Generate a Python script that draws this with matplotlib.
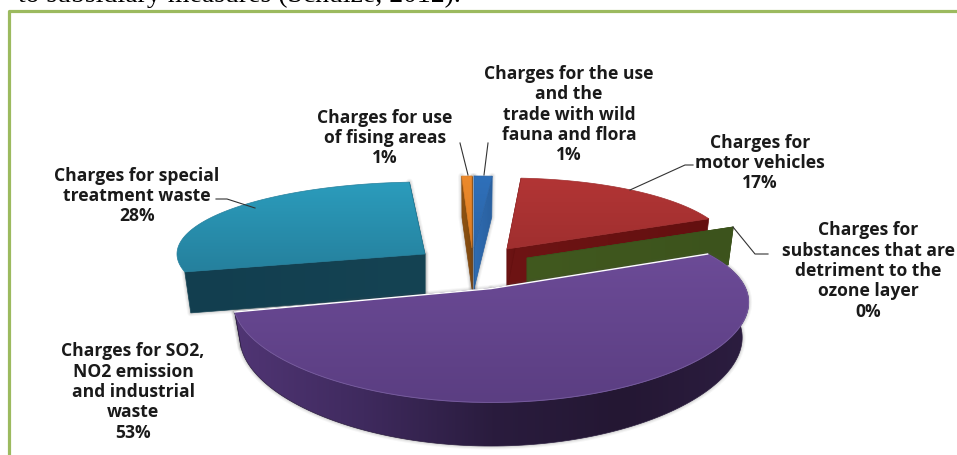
import numpy as np
import matplotlib
matplotlib.use("Agg")
import matplotlib.pyplot as plt
from matplotlib.colors import LinearSegmentedColormap
from matplotlib.patches import Polygon

# Environmental charges, share of revenue by category (clockwise from the top)
categories = [
    "Charges for the use\nand the\ntrade with wild\nfauna and flora",
    "Charges for\nmotor vehicles",
    "Charges for\nsubstances that are\ndetriment to the\nozone layer",
    "Charges for SO2,\nNO2 emission\nand industrial\nwaste",
    "Charges for special\ntreatment waste",
    "Charges for use\nof fising areas",
]
shares = [1, 17, 0, 53, 28, 1]
W, H = 957, 455
FONT = "Open Sans"

fig = plt.figure(figsize=(W / 100, H / 100), dpi=100, facecolor="white")

# The pie itself supplies the slice angles; its flat form stays hidden
pie_ax = fig.add_axes([0, 0, 0.1, 0.1])
slices, _ = pie_ax.pie(shares, startangle=90, counterclock=False)
angles = [(s.theta1, s.theta2) for s in slices]
pie_ax.set_visible(False)

ax = fig.add_axes([0, 0, 1, 1])
ax.set_xlim(0, W)
ax.set_ylim(H, 0)
ax.axis("off")


def project(ang, sty, r=1.0, drop=0.0):
    """Map pie angles onto the tilted disc of one exploded slice."""
    ang = np.radians(np.atleast_1d(ang))
    u, v = r * np.cos(ang), r * np.sin(ang)
    sx = 1 / (1 + sty["kx"] * v)
    sy = 1 / (1 + sty["ky"] * v)
    taper = 1 - 0.025 * (drop > 0)
    x = sty["x"] + sty["a"] * u * sx * taper
    y = sty["y"] - sty["b"] * v * sy + drop * sy
    return np.column_stack([x, y])


def gradient_fill(pts, stops, zorder, horizontal=False):
    """Fill a polygon with a linear colour ramp across its bounding box."""
    x0, y0 = pts.min(axis=0)
    x1, y1 = pts.max(axis=0)
    cmap = LinearSegmentedColormap.from_list("ramp", stops)
    ramp = np.linspace(0, 1, 256)
    ramp = ramp[None, :] if horizontal else ramp[:, None]
    im = ax.imshow(ramp, cmap=cmap, extent=(x0, x1, y1, y0), aspect="auto",
                   zorder=zorder, interpolation="bilinear")
    clip = Polygon(pts, closed=True, transform=ax.transData)
    im.set_clip_path(clip)
    ax.add_patch(Polygon(pts, closed=True, fill=False, ec=stops[len(stops) // 2],
                         lw=0.5, zorder=zorder))


def soft_halo(pts, zorder):
    """Soft grey fringe around a wall."""
    for lw, alpha in [(5, 0.05), (3.5, 0.07), (2, 0.1)]:
        ax.add_patch(Polygon(pts, closed=True, fill=False, ec="#555555", lw=lw,
                             alpha=alpha, zorder=zorder, joinstyle="round"))


# Geometry and shading of each slice: apex, radii, perspective, wall depth
styles = [
    dict(x=474, y=248, a=290, b=72, kx=0, ky=0, d=41, outer=False, halo=True,
         top=["#2f70ba", "#2b64a6"], wall=["#2f6cb2", "#29609f"]),
    dict(x=507, y=249, a=223, b=71, kx=0, ky=0, d=41, outer=False, halo=False,
         top=["#b23535", "#a02f2f"], wall=["#6e1414", "#641010"]),
    dict(x=527, y=258, a=228, b=73, kx=0, ky=0, d=38, outer=False, halo=False,
         top=["#3f5a1e", "#3f5a1e"], wall=["#41591f", "#3c531c"]),
    dict(x=491, y=288.6, a=254.7, b=88.8, kx=0.15, ky=0.22, d=34, outer=True, halo=True,
         top=["#6c4b97", "#5b3e82"],
         wall=["#503574", "#3f2a5e", "#2a1c3e", "#241733", "#2c1d40"]),
    dict(x=425, y=254, a=248, b=72, kx=0, ky=0, d=41, outer=False, halo=True,
         top=["#2b9cbc", "#25809d"], wall=["#123e4f", "#154353"]),
    dict(x=472, y=248, a=165, b=72, kx=0, ky=0, d=41, outer=False, halo=True,
         top=["#ec8a2c", "#dc7c22"], wall=["#8f5312", "#7c4710"]),
]
draw_order = [5, 0, 4, 1, 2, 3]

for z, i in enumerate(draw_order):
    sty = styles[i]
    t1, t2 = angles[i]
    base = 10 + z * 3
    arc_a = np.linspace(t1, t2, 160)
    rim = project(arc_a, sty)
    apex = np.array([[sty["x"], sty["y"]]])
    lo_rim = project(arc_a, sty, drop=sty["d"])
    lo_apex = project(0.0, sty, r=0.0, drop=sty["d"])

    # Two cut faces and, where it faces the viewer, the curved outer wall
    walls = [
        np.vstack([apex, rim[:1], lo_rim[:1], lo_apex]),
        np.vstack([apex, rim[-1:], lo_rim[-1:], lo_apex]),
    ]
    if sty["outer"]:
        walls.append(np.vstack([rim, lo_rim[::-1]]))
    if sty["halo"]:
        for w in walls:
            soft_halo(w, base)
    for w in walls:
        gradient_fill(w, sty["wall"], base + 1, horizontal=True)

    # Top face (the empty slice has none, only its cut face)
    if t2 > t1:
        gradient_fill(np.vstack([apex, rim]), sty["top"], base + 2)

    # Purple slice: pale rim and thin white cut edge
    if i == 3:
        ax.plot(rim[:, 0], rim[:, 1], color="#7d62a5", lw=0.7, alpha=0.8, zorder=base + 2)
        edge = np.vstack([rim[:1], apex, rim[-1:]])
        ax.plot(edge[:, 0], edge[:, 1], color="white", lw=1.0, zorder=base + 2)

# Leader lines
leaders = [
    ([484, 488], [175, 143]),
    ([693, 685, 630], [165, 165, 190]),
    ([733, 755, 768], [227, 254, 254]),
    ([255, 227, 216], [208, 199, 199]),
    ([468, 460], [175, 143]),
]
for xs, ys in leaders:
    ax.plot(xs, ys, color="#333333", lw=0.8, zorder=40)

# Data labels: name above, share below
label_pos = [(569, 114.5), (760, 163), (868, 271), (133, 392), (137, 196), (385, 138)]
for name, share, (lx, ly) in zip(categories, shares, label_pos):
    ax.text(lx, ly, f"{name}\n{share}%", ha="center", va="center", family=FONT,
            fontweight="bold", fontsize=12.6, color="#1a1a1a", linespacing=1.17,
            zorder=41)

# Surrounding frame
ax.plot([9, 9, W], [H, 10.5, 10.5], color="#9cba5f", lw=2.3, zorder=50,
        solid_joinstyle="round", clip_on=False)

# Running text cut off by the top edge
ax.text(18, 2.5, "to subsidiary measures (Schulze, 2012).", family="Liberation Serif",
        fontsize=20, color="black", ha="left", va="baseline", clip_on=True)

ax.set_xlim(0, W)
ax.set_ylim(H, 0)
fig.savefig("out.png", dpi=100)
